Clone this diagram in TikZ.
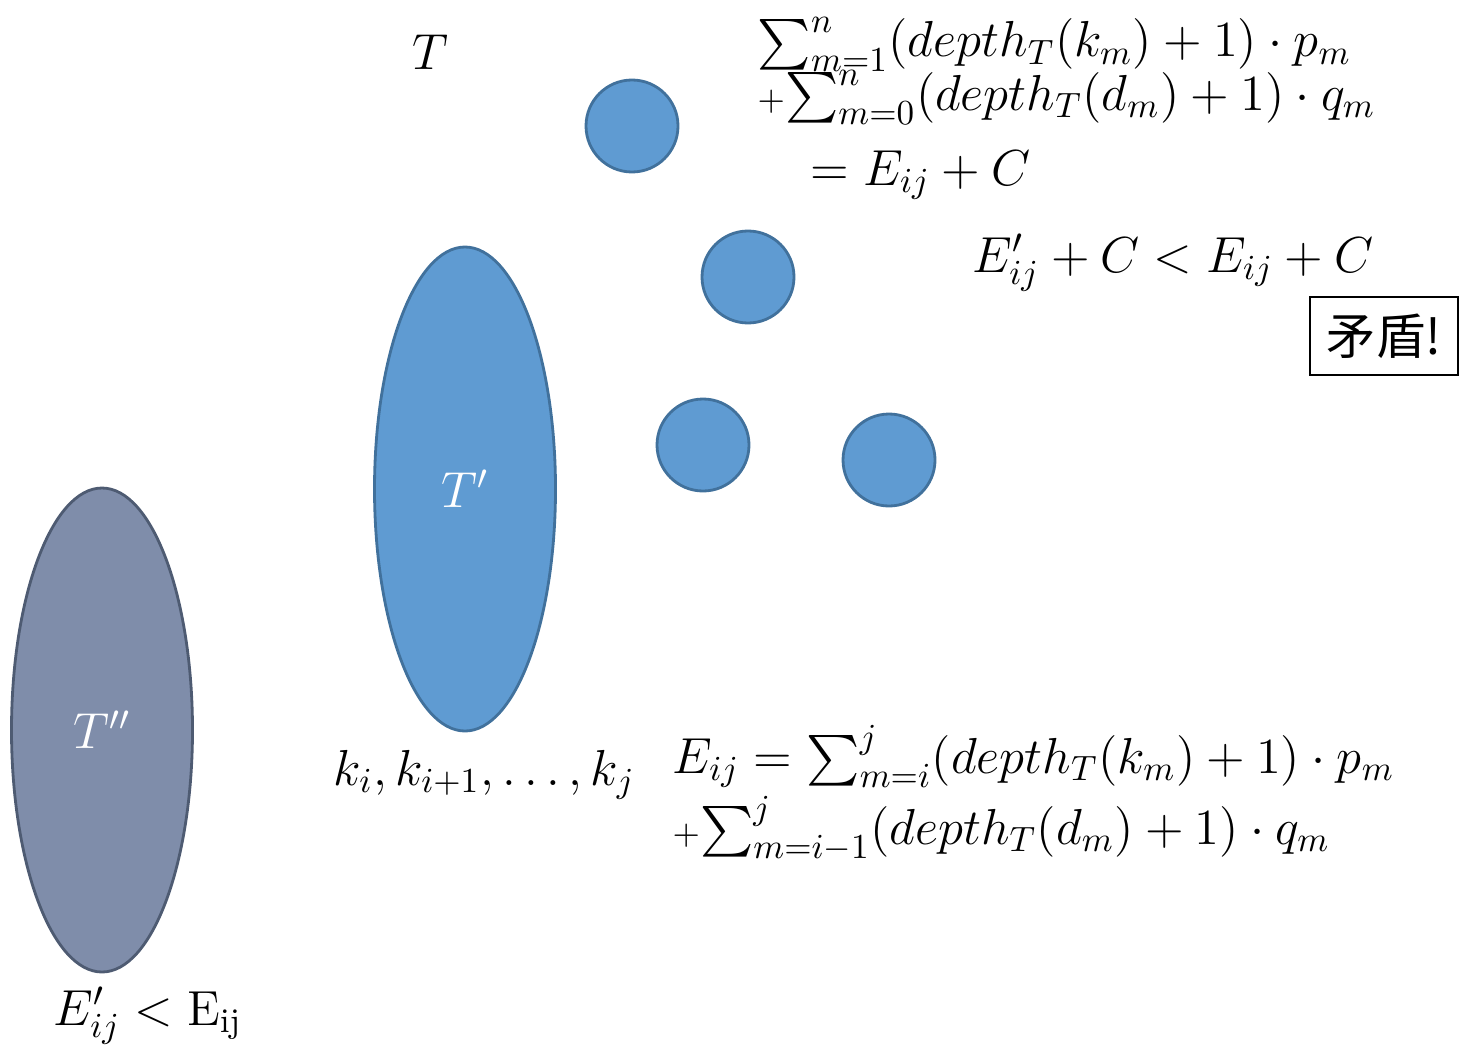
\documentclass[tikz,border=0pt]{standalone}
\usepackage{fontspec}
\usepackage{amsmath}
\usepackage{mathtools}
\usepackage{tikz}
\usetikzlibrary{positioning, shapes.geometric}
\newfontfamily\cjk{Noto Sans CJK SC}
\definecolor{nodeblue}{HTML}{5F9BD2}
\definecolor{nodeborder}{HTML}{41719C}
\definecolor{treegray}{HTML}{7F8DAA}
\definecolor{treeborder}{HTML}{4E5B72}

\begin{document}
\begin{tikzpicture}[x=1cm, y=-1cm,
    keynode/.style={circle, fill=nodeblue, draw=nodeborder, line width=0.8pt, minimum size=0.92cm, inner sep=0pt},
    subtree/.style={ellipse, line width=0.8pt, minimum width=1.81cm, minimum height=4.84cm, inner sep=0pt, text=white},
    formula/.style={anchor=base west, inner sep=0pt, font=\fontsize{14}{17}\selectfont}]
  \useasboundingbox (0,0) rectangle (14.59,10.48);

  % the tree T and its keys
  \node[formula] (tlabel) at (4.12,0.70) {$T$};
  \node[keynode] (key1) at (6.32,1.26) {};
  \node[keynode] (key2) at (7.48,2.77) {};
  \node[keynode] (key3) at (7.03,4.45) {};
  \node[keynode] (key4) at (8.89,4.60) {};

  % subtrees
  \node[subtree, fill=nodeblue, draw=nodeborder] (tprime) at (4.65,4.89)
    {\fontsize{14}{17}\selectfont$T'$};
  \node[subtree, fill=treegray, draw=treeborder] (tsecond) at (1.02,7.30)
    {\fontsize{14}{17}\selectfont$T''$};
  \node[formula] (keys) at (3.33,7.85) {$k_i,k_{i+1},\ldots,k_j$};
  \node[formula] (cmp) at (0.53,10.25) {$E'_{ij}<\mathrm{E}_{\mathrm{ij}}$};

  % costs
  \node[formula] (costA) at (7.57,0.57)
    {$\cramped{\sum_{m=1}^{n}}(depth_T(k_m)+1)\cdot p_m$};
  \node[formula] (costB) at (7.57,1.10)
    {${\scriptstyle+}\cramped{\sum_{m=0}^{n}}(depth_T(d_m)+1)\cdot q_m$};
  \node[formula] (costC) at (8.10,1.85) {$=E_{ij}+C$};
  \node[formula] (ineq) at (9.72,2.72) {$E'_{ij}+C<E_{ij}+C$};
  \node[draw, line width=0.7pt, minimum width=1.48cm, minimum height=0.78cm, inner sep=0pt,
        font=\fontsize{14}{17}\selectfont] (contra) at (13.84,3.36) {\cjk 矛盾!};

  \node[formula] (eijA) at (6.72,7.73)
    {$E_{ij}=\cramped{\sum_{m=i}^{j}}(depth_T(k_m)+1)\cdot p_m$};
  \node[formula] (eijB) at (6.72,8.44)
    {${\scriptstyle+}\cramped{\sum_{m=i-1}^{j}}(depth_T(d_m)+1)\cdot q_m$};
\end{tikzpicture}
\end{document}
